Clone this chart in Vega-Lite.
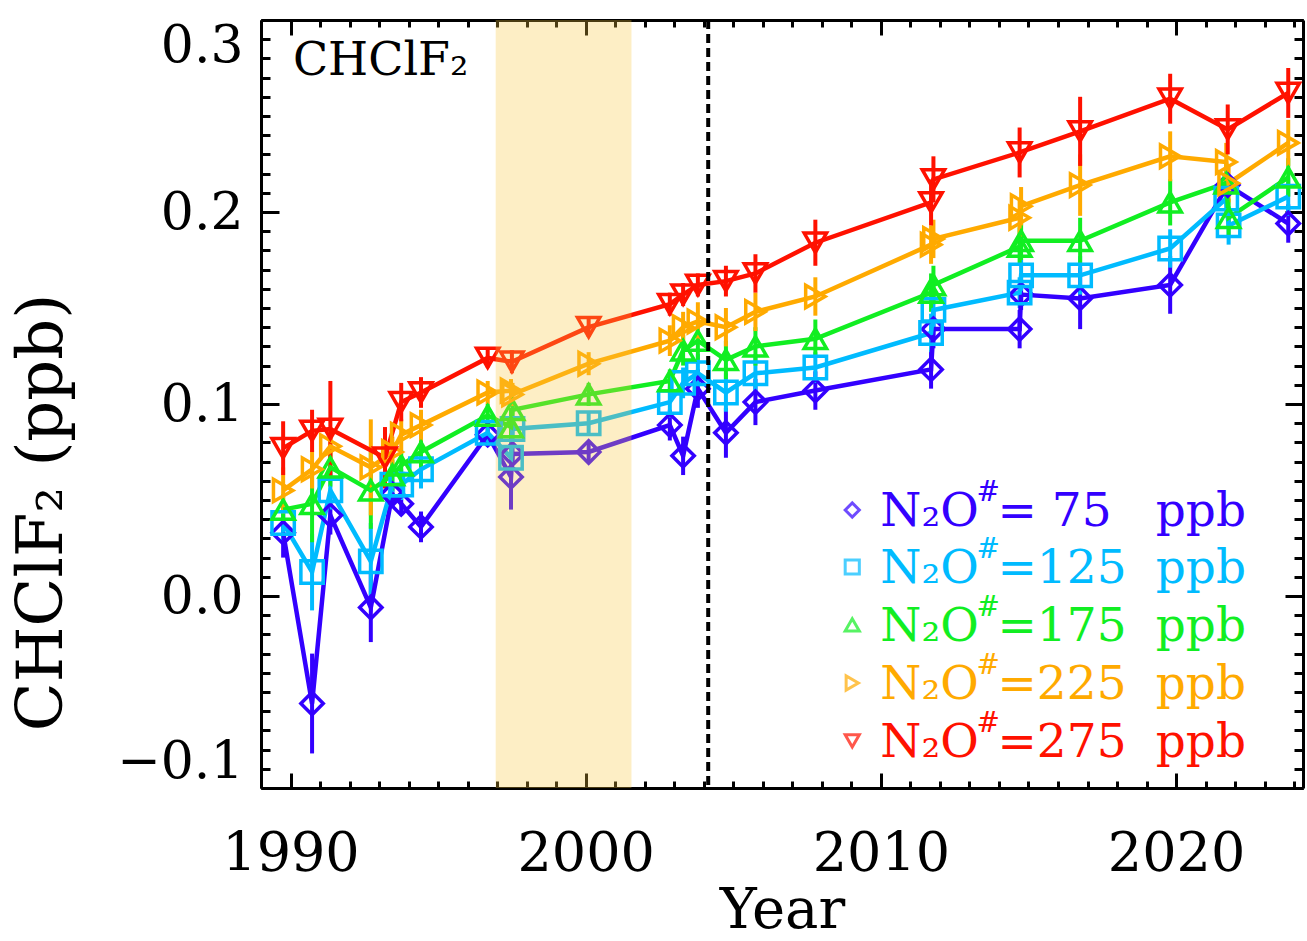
{
"$schema": "https://vega.github.io/schema/vega-lite/v6.json",
"autosize": "none",
"width": 1042,
"height": 768,
"padding": {"left": 261, "top": 20, "right": 4, "bottom": 153},
"background": "white",
"config": {
  "view": {"stroke": null},
  "font": "DejaVu Serif",
  "axis": {"grid": false, "labelFont": "DejaVu Serif", "titleFont": "DejaVu Serif", "labelColor": "black", "titleColor": "black", "domainColor": "black", "tickColor": "black", "titleFontWeight": "normal"}
},
"datasets": {
  "series": [
    {"s": "75", "year": 1989.75, "value": 0.033, "err": 0.013},
    {"s": "75", "year": 1990.73, "value": -0.056, "err": 0.026},
    {"s": "75", "year": 1991.35, "value": 0.042, "err": 0.01},
    {"s": "75", "year": 1992.72, "value": -0.006, "err": 0.018},
    {"s": "75", "year": 1993.45, "value": 0.053, "err": 0.006},
    {"s": "75", "year": 1993.75, "value": 0.048, "err": 0.006},
    {"s": "75", "year": 1994.42, "value": 0.036, "err": 0.008},
    {"s": "75", "year": 1996.68, "value": 0.084, "err": 0.006},
    {"s": "75", "year": 1997.47, "value": 0.062, "err": 0.017},
    {"s": "75", "year": 1997.52, "value": 0.074, "err": 0.005},
    {"s": "75", "year": 2000.1, "value": 0.075, "err": 0.005},
    {"s": "75", "year": 2002.85, "value": 0.089, "err": 0.008},
    {"s": "75", "year": 2003.3, "value": 0.073, "err": 0.01},
    {"s": "75", "year": 2003.8, "value": 0.108, "err": 0.01},
    {"s": "75", "year": 2004.75, "value": 0.085, "err": 0.013},
    {"s": "75", "year": 2005.75, "value": 0.101, "err": 0.012},
    {"s": "75", "year": 2007.78, "value": 0.107, "err": 0.01},
    {"s": "75", "year": 2011.7, "value": 0.118, "err": 0.01},
    {"s": "75", "year": 2011.78, "value": 0.139, "err": 0.01},
    {"s": "75", "year": 2014.7, "value": 0.139, "err": 0.01},
    {"s": "75", "year": 2014.75, "value": 0.157, "err": 0.008},
    {"s": "75", "year": 2016.75, "value": 0.155, "err": 0.016},
    {"s": "75", "year": 2019.8, "value": 0.162, "err": 0.015},
    {"s": "75", "year": 2021.75, "value": 0.214, "err": 0.01},
    {"s": "75", "year": 2023.8, "value": 0.194, "err": 0.01},

    {"s": "125", "year": 1989.75, "value": 0.038, "err": 0.01},
    {"s": "125", "year": 1990.73, "value": 0.0125, "err": 0.02},
    {"s": "125", "year": 1991.35, "value": 0.055, "err": 0.01},
    {"s": "125", "year": 1992.72, "value": 0.018, "err": 0.02},
    {"s": "125", "year": 1993.45, "value": 0.058, "err": 0.01},
    {"s": "125", "year": 1993.75, "value": 0.058, "err": 0.008},
    {"s": "125", "year": 1994.42, "value": 0.066, "err": 0.01},
    {"s": "125", "year": 1996.68, "value": 0.085, "err": 0.006},
    {"s": "125", "year": 1997.47, "value": 0.072, "err": 0.008},
    {"s": "125", "year": 1997.52, "value": 0.087, "err": 0.006},
    {"s": "125", "year": 2000.1, "value": 0.09, "err": 0.006},
    {"s": "125", "year": 2002.85, "value": 0.101, "err": 0.008},
    {"s": "125", "year": 2003.3, "value": 0.111, "err": 0.008},
    {"s": "125", "year": 2003.8, "value": 0.116, "err": 0.01},
    {"s": "125", "year": 2004.75, "value": 0.106, "err": 0.01},
    {"s": "125", "year": 2005.75, "value": 0.116, "err": 0.01},
    {"s": "125", "year": 2007.78, "value": 0.119, "err": 0.008},
    {"s": "125", "year": 2011.7, "value": 0.137, "err": 0.01},
    {"s": "125", "year": 2011.78, "value": 0.149, "err": 0.01},
    {"s": "125", "year": 2014.7, "value": 0.158, "err": 0.008},
    {"s": "125", "year": 2014.75, "value": 0.167, "err": 0.008},
    {"s": "125", "year": 2016.75, "value": 0.167, "err": 0.01},
    {"s": "125", "year": 2019.8, "value": 0.181, "err": 0.01},
    {"s": "125", "year": 2021.7, "value": 0.207, "err": 0.01},
    {"s": "125", "year": 2021.78, "value": 0.193, "err": 0.01},
    {"s": "125", "year": 2023.8, "value": 0.208, "err": 0.01},

    {"s": "175", "year": 1989.75, "value": 0.045, "err": 0.008},
    {"s": "175", "year": 1990.73, "value": 0.048, "err": 0.02},
    {"s": "175", "year": 1991.35, "value": 0.067, "err": 0.01},
    {"s": "175", "year": 1992.72, "value": 0.055, "err": 0.02},
    {"s": "175", "year": 1993.45, "value": 0.063, "err": 0.008},
    {"s": "175", "year": 1993.75, "value": 0.068, "err": 0.008},
    {"s": "175", "year": 1994.42, "value": 0.075, "err": 0.008},
    {"s": "175", "year": 1996.68, "value": 0.094, "err": 0.006},
    {"s": "175", "year": 1997.47, "value": 0.088, "err": 0.01},
    {"s": "175", "year": 1997.52, "value": 0.097, "err": 0.006},
    {"s": "175", "year": 2000.1, "value": 0.105, "err": 0.006},
    {"s": "175", "year": 2002.85, "value": 0.112, "err": 0.006},
    {"s": "175", "year": 2003.3, "value": 0.128, "err": 0.008},
    {"s": "175", "year": 2003.8, "value": 0.133, "err": 0.01},
    {"s": "175", "year": 2004.75, "value": 0.123, "err": 0.01},
    {"s": "175", "year": 2005.75, "value": 0.13, "err": 0.01},
    {"s": "175", "year": 2007.78, "value": 0.134, "err": 0.01},
    {"s": "175", "year": 2011.7, "value": 0.158, "err": 0.01},
    {"s": "175", "year": 2011.78, "value": 0.162, "err": 0.01},
    {"s": "175", "year": 2014.7, "value": 0.182, "err": 0.01},
    {"s": "175", "year": 2014.75, "value": 0.185, "err": 0.01},
    {"s": "175", "year": 2016.75, "value": 0.185, "err": 0.012},
    {"s": "175", "year": 2019.8, "value": 0.205, "err": 0.012},
    {"s": "175", "year": 2021.7, "value": 0.215, "err": 0.01},
    {"s": "175", "year": 2021.78, "value": 0.197, "err": 0.01},
    {"s": "175", "year": 2023.8, "value": 0.218, "err": 0.01},

    {"s": "225", "year": 1989.75, "value": 0.055, "err": 0.012},
    {"s": "225", "year": 1990.73, "value": 0.066, "err": 0.01},
    {"s": "225", "year": 1991.35, "value": 0.078, "err": 0.01},
    {"s": "225", "year": 1992.72, "value": 0.067, "err": 0.025},
    {"s": "225", "year": 1993.45, "value": 0.075, "err": 0.008},
    {"s": "225", "year": 1993.75, "value": 0.084, "err": 0.008},
    {"s": "225", "year": 1994.42, "value": 0.089, "err": 0.008},
    {"s": "225", "year": 1996.68, "value": 0.106, "err": 0.006},
    {"s": "225", "year": 1997.47, "value": 0.107, "err": 0.006},
    {"s": "225", "year": 1997.52, "value": 0.105, "err": 0.006},
    {"s": "225", "year": 2000.1, "value": 0.121, "err": 0.006},
    {"s": "225", "year": 2002.85, "value": 0.133, "err": 0.008},
    {"s": "225", "year": 2003.3, "value": 0.14, "err": 0.008},
    {"s": "225", "year": 2003.8, "value": 0.143, "err": 0.01},
    {"s": "225", "year": 2004.75, "value": 0.14, "err": 0.01},
    {"s": "225", "year": 2005.75, "value": 0.148, "err": 0.01},
    {"s": "225", "year": 2007.78, "value": 0.156, "err": 0.01},
    {"s": "225", "year": 2011.7, "value": 0.183, "err": 0.01},
    {"s": "225", "year": 2011.78, "value": 0.186, "err": 0.01},
    {"s": "225", "year": 2014.7, "value": 0.197, "err": 0.01},
    {"s": "225", "year": 2014.75, "value": 0.203, "err": 0.01},
    {"s": "225", "year": 2016.75, "value": 0.214, "err": 0.016},
    {"s": "225", "year": 2019.8, "value": 0.229, "err": 0.013},
    {"s": "225", "year": 2021.7, "value": 0.226, "err": 0.01},
    {"s": "225", "year": 2021.78, "value": 0.215, "err": 0.01},
    {"s": "225", "year": 2023.8, "value": 0.236, "err": 0.012},

    {"s": "275", "year": 1989.75, "value": 0.077, "err": 0.014},
    {"s": "275", "year": 1990.73, "value": 0.086, "err": 0.011},
    {"s": "275", "year": 1991.35, "value": 0.087, "err": 0.025},
    {"s": "275", "year": 1993.2, "value": 0.072, "err": 0.016},
    {"s": "275", "year": 1993.75, "value": 0.101, "err": 0.01},
    {"s": "275", "year": 1994.42, "value": 0.106, "err": 0.008},
    {"s": "275", "year": 1996.68, "value": 0.124, "err": 0.005},
    {"s": "275", "year": 1997.5, "value": 0.122, "err": 0.006},
    {"s": "275", "year": 2000.1, "value": 0.14, "err": 0.005},
    {"s": "275", "year": 2002.85, "value": 0.152, "err": 0.006},
    {"s": "275", "year": 2003.3, "value": 0.157, "err": 0.006},
    {"s": "275", "year": 2003.8, "value": 0.162, "err": 0.006},
    {"s": "275", "year": 2004.75, "value": 0.164, "err": 0.008},
    {"s": "275", "year": 2005.75, "value": 0.168, "err": 0.01},
    {"s": "275", "year": 2007.78, "value": 0.184, "err": 0.012},
    {"s": "275", "year": 2011.7, "value": 0.205, "err": 0.012},
    {"s": "275", "year": 2011.78, "value": 0.217, "err": 0.012},
    {"s": "275", "year": 2014.7, "value": 0.231, "err": 0.013},
    {"s": "275", "year": 2016.75, "value": 0.242, "err": 0.018},
    {"s": "275", "year": 2019.8, "value": 0.259, "err": 0.013},
    {"s": "275", "year": 2021.75, "value": 0.243, "err": 0.013},
    {"s": "275", "year": 2023.8, "value": 0.262, "err": 0.013}
  ],
  "legend": [
    {"s": "75", "value": 0.0448, "num": "= 75"},
    {"s": "125", "value": 0.0151, "num": "=125"},
    {"s": "175", "value": -0.0151, "num": "=175"},
    {"s": "225", "value": -0.0453, "num": "=225"},
    {"s": "275", "value": -0.0755, "num": "=275"}
  ]
},
"resolve": {"axis": {"x": "independent", "y": "independent"}},
"layer": [
  {
    "data": {"name": "series"},
    "mark": {"type": "errorbar", "thickness": 4},
    "encoding": {
      "x": {"field": "year", "type": "quantitative", "scale": {"domain": [1989, 2024.3], "nice": false, "zero": false}, "axis": null},
      "y": {"field": "value", "type": "quantitative", "scale": {"domain": [-0.1, 0.3], "nice": false, "zero": false}, "axis": null},
      "yError": {"field": "err"},
      "color": {"field": "s", "type": "nominal", "scale": {"domain": ["75", "125", "175", "225", "275"], "range": ["#3300ff", "#00bbff", "#11ee22", "#ffaa00", "#ff1100"]}, "legend": null}
    }
  },
  {
    "data": {"name": "series"},
    "mark": {"type": "line", "strokeWidth": 4.5},
    "encoding": {
      "x": {"field": "year", "type": "quantitative", "scale": {"domain": [1989, 2024.3], "nice": false, "zero": false},
        "axis": {"orient": "bottom", "values": [1990, 2000, 2010, 2020], "format": "d", "labelFontSize": 54, "labelPadding": 39, "ticks": false, "domain": true, "domainWidth": 3, "labelFlush": false, "title": "Year", "titleFontSize": 56, "titlePadding": 2}},
      "y": {"field": "value", "type": "quantitative", "scale": {"domain": [-0.1, 0.3], "nice": false, "zero": false},
        "axis": {"orient": "left", "values": [-0.1, 0, 0.1, 0.2, 0.3], "format": ".1f", "labelFontSize": 52, "labelPadding": 18, "labelFlush": true, "ticks": false, "domain": true, "domainWidth": 3, "title": "CHClF₂ (ppb)", "titleFontSize": 64, "titlePadding": 42, "titleY": 492}},
      "color": {"field": "s", "type": "nominal", "legend": null},
      "detail": {"field": "s"}
    }
  },
  {
    "data": {"name": "series"},
    "mark": {"type": "point", "filled": false, "strokeWidth": 3.5, "size": 500, "opacity": 1},
    "encoding": {
      "x": {"field": "year", "type": "quantitative", "scale": {"domain": [1989, 2024.3], "nice": false, "zero": false},
        "axis": {"orient": "top", "values": [1990, 2000, 2010, 2020], "labels": false, "tickSize": -15, "tickWidth": 3, "domain": true, "domainWidth": 3, "title": null}},
      "y": {"field": "value", "type": "quantitative", "scale": {"domain": [-0.1, 0.3], "nice": false, "zero": false},
        "axis": {"orient": "right", "values": [-0.1, 0, 0.1, 0.2, 0.3], "labels": false, "tickSize": -18, "tickWidth": 3, "domain": true, "domainWidth": 3, "title": null}},
      "color": {"field": "s", "type": "nominal", "legend": null},
      "shape": {"field": "s", "type": "nominal", "scale": {"domain": ["75", "125", "175", "225", "275"], "range": ["diamond", "square", "triangle-up", "triangle-right", "triangle-down"]}, "legend": null}
    }
  },
  {
    "data": {"values": [{"year": 1996.95, "year2": 2001.55}]},
    "mark": {"type": "rect", "color": "#f8c63e", "opacity": 0.3},
    "encoding": {
      "x": {"field": "year", "type": "quantitative", "scale": {"domain": [1989, 2024.3], "nice": false, "zero": false},
        "axis": {"orient": "bottom", "values": [1990, 2000, 2010, 2020], "labels": false, "tickSize": -15, "tickWidth": 3, "domain": false, "title": null}},
      "x2": {"field": "year2"}
    }
  },
  {
    "data": {"values": [{"year": 2004.15}]},
    "mark": {"type": "rule", "color": "black", "strokeWidth": 4, "strokeDash": [9, 5]},
    "encoding": {
      "x": {"field": "year", "type": "quantitative", "scale": {"domain": [1989, 2024.3], "nice": false, "zero": false},
        "axis": {"orient": "bottom", "values": [1989,1990,1991,1992,1993,1994,1995,1996,1997,1998,1999,2000,2001,2002,2003,2004,2005,2006,2007,2008,2009,2010,2011,2012,2013,2014,2015,2016,2017,2018,2019,2020,2021,2022,2023,2024], "labels": false, "tickSize": -7, "tickWidth": 3, "domain": false, "title": null}}
    }
  },
  {
    "data": {"name": "legend"},
    "mark": {"type": "point", "filled": false, "strokeWidth": 3, "size": 200},
    "encoding": {
      "x": {"datum": 2009.03, "type": "quantitative", "scale": {"domain": [1989, 2024.3], "nice": false, "zero": false},
        "axis": {"orient": "top", "values": [1989,1990,1991,1992,1993,1994,1995,1996,1997,1998,1999,2000,2001,2002,2003,2004,2005,2006,2007,2008,2009,2010,2011,2012,2013,2014,2015,2016,2017,2018,2019,2020,2021,2022,2023,2024], "labels": false, "tickSize": -7, "tickWidth": 3, "domain": false, "title": null}},
      "y": {"field": "value", "type": "quantitative", "scale": {"domain": [-0.1, 0.3], "nice": false, "zero": false},
        "axis": {"orient": "left", "values": [-0.1, 0, 0.1, 0.2, 0.3], "labels": false, "tickSize": -18, "tickWidth": 3, "domain": false, "title": null}},
      "color": {"field": "s", "type": "nominal", "legend": null},
      "shape": {"field": "s", "type": "nominal", "legend": null}
    }
  },
  {
    "data": {"name": "legend"},
    "mark": {"type": "text", "align": "left", "baseline": "middle", "fontSize": 47, "font": "DejaVu Serif", "text": "N₂O", "dy": 2},
    "encoding": {
      "x": {"datum": 2009.98, "type": "quantitative", "scale": {"domain": [1989, 2024.3], "nice": false, "zero": false}, "axis": null},
      "y": {"field": "value", "type": "quantitative", "scale": {"domain": [-0.1, 0.3], "nice": false, "zero": false},
        "axis": {"orient": "left", "values": [-0.1,-0.09,-0.08,-0.07,-0.06,-0.05,-0.04,-0.03,-0.02,-0.01,0,0.01,0.02,0.03,0.04,0.05,0.06,0.07,0.08,0.09,0.1,0.11,0.12,0.13,0.14,0.15,0.16,0.17,0.18,0.19,0.2,0.21,0.22,0.23,0.24,0.25,0.26,0.27,0.28,0.29,0.3], "labels": false, "tickSize": -9, "tickWidth": 3, "domain": false, "title": null}},
      "color": {"field": "s", "type": "nominal", "legend": null}
    }
  },
  {
    "data": {"name": "legend"},
    "mark": {"type": "text", "align": "left", "baseline": "middle", "fontSize": 28, "font": "DejaVu Serif", "text": "#", "dy": -17},
    "encoding": {
      "x": {"datum": 2013.24, "type": "quantitative", "scale": {"domain": [1989, 2024.3], "nice": false, "zero": false}, "axis": null},
      "y": {"field": "value", "type": "quantitative", "scale": {"domain": [-0.1, 0.3], "nice": false, "zero": false},
        "axis": {"orient": "right", "values": [-0.1,-0.09,-0.08,-0.07,-0.06,-0.05,-0.04,-0.03,-0.02,-0.01,0,0.01,0.02,0.03,0.04,0.05,0.06,0.07,0.08,0.09,0.1,0.11,0.12,0.13,0.14,0.15,0.16,0.17,0.18,0.19,0.2,0.21,0.22,0.23,0.24,0.25,0.26,0.27,0.28,0.29,0.3], "labels": false, "tickSize": -9, "tickWidth": 3, "domain": false, "title": null}},
      "color": {"field": "s", "type": "nominal", "legend": null}
    }
  },
  {
    "data": {"name": "legend"},
    "mark": {"type": "text", "align": "left", "baseline": "middle", "fontSize": 47, "font": "DejaVu Serif", "dy": 2},
    "encoding": {
      "x": {"datum": 2013.95, "type": "quantitative", "scale": {"domain": [1989, 2024.3], "nice": false, "zero": false}, "axis": null},
      "y": {"field": "value", "type": "quantitative", "scale": {"domain": [-0.1, 0.3], "nice": false, "zero": false}, "axis": null},
      "text": {"field": "num"},
      "color": {"field": "s", "type": "nominal", "legend": null}
    }
  },
  {
    "data": {"name": "legend"},
    "mark": {"type": "text", "align": "left", "baseline": "middle", "fontSize": 47, "font": "DejaVu Serif", "text": "ppb", "dy": 2},
    "encoding": {
      "x": {"datum": 2019.31, "type": "quantitative", "scale": {"domain": [1989, 2024.3], "nice": false, "zero": false}, "axis": null},
      "y": {"field": "value", "type": "quantitative", "scale": {"domain": [-0.1, 0.3], "nice": false, "zero": false}, "axis": null},
      "color": {"field": "s", "type": "nominal", "legend": null}
    }
  },
  {
    "data": {"values": [{"label": "CHClF₂", "year": 1990.08, "value": 0.2714}]},
    "mark": {"type": "text", "align": "left", "baseline": "alphabetic", "fontSize": 46, "font": "DejaVu Serif", "color": "black"},
    "encoding": {
      "x": {"field": "year", "type": "quantitative", "scale": {"domain": [1989, 2024.3], "nice": false, "zero": false}, "axis": null},
      "y": {"field": "value", "type": "quantitative", "scale": {"domain": [-0.1, 0.3], "nice": false, "zero": false}, "axis": null},
      "text": {"field": "label"}
    }
  }
]
}
